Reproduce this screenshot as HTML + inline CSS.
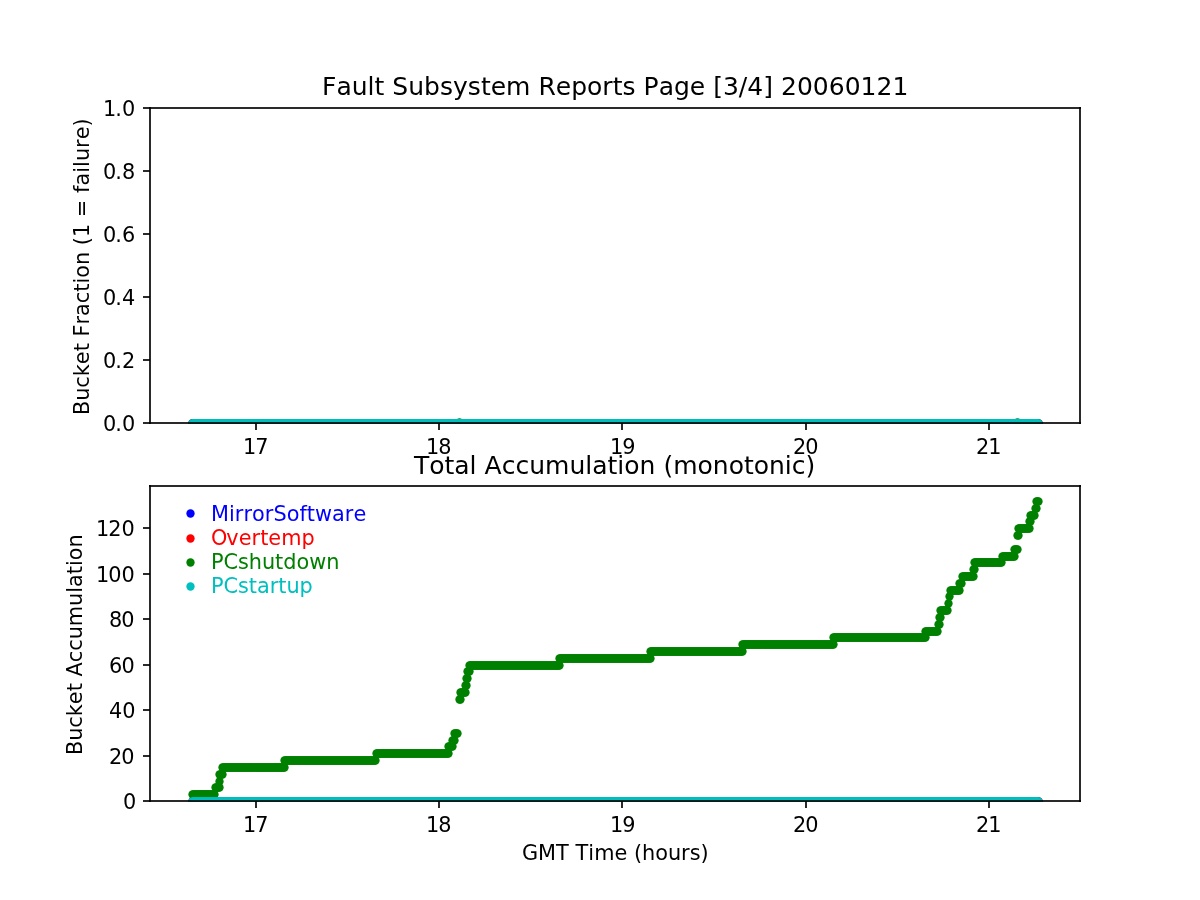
<!DOCTYPE html>
<html><head><meta charset="utf-8"><title>Fault Subsystem Reports</title>
<style>
html,body{margin:0;padding:0;background:#fff;}
body{width:1200px;height:900px;overflow:hidden;}
svg{display:block;}
text{font-family:"DejaVu Sans","Liberation Sans",sans-serif;fill:#000;font-kerning:none;}
.t{font-size:20.83px;}
.h{font-size:25.0px;}
.d{fill:none;stroke:none;}
.sp{fill:#000;fill-opacity:0.835;}
</style></head><body>
<svg width="1200" height="900" viewBox="0 0 1200 900">
<rect width="1200" height="900" fill="#fff"/>
<defs>
<clipPath id="c1"><rect x="150" y="108" width="930" height="316"/></clipPath>
<clipPath id="c2"><rect x="150" y="486" width="930" height="316"/></clipPath>
<marker id="mb" markerUnits="userSpaceOnUse" markerWidth="10" markerHeight="10" refX="5" refY="5"><circle cx="5" cy="5" r="4.17" fill="#0000ff"/></marker>
<marker id="mr" markerUnits="userSpaceOnUse" markerWidth="10" markerHeight="10" refX="5" refY="5"><circle cx="5" cy="5" r="4.17" fill="#ff0000"/></marker>
<marker id="mg" markerUnits="userSpaceOnUse" markerWidth="10" markerHeight="10" refX="5" refY="5"><circle cx="5" cy="5" r="4.17" fill="#008000"/></marker>
<marker id="mc" markerUnits="userSpaceOnUse" markerWidth="10" markerHeight="10" refX="5" refY="5"><circle cx="5" cy="5" r="4.17" fill="#00bfbf"/></marker>
<polyline id="z" class="d" points="192.5,801.5 193.5,801.5 194.5,801.5 195.5,801.5 196.5,801.5 197.5,801.5 198.5,801.5 199.5,801.5 200.5,801.5 201.5,801.5 202.5,801.5 203.5,801.5 204.5,801.5 205.5,801.5 206.5,801.5 207.5,801.5 208.5,801.5 209.5,801.5 210.5,801.5 211.5,801.5 212.5,801.5 213.5,801.5 214.5,801.5 215.5,801.5 216.5,801.5 217.5,801.5 218.5,801.5 219.5,801.5 220.5,801.5 221.5,801.5 222.5,801.5 223.5,801.5 224.5,801.5 225.5,801.5 226.5,801.5 227.5,801.5 228.5,801.5 229.5,801.5 230.5,801.5 231.5,801.5 232.5,801.5 233.5,801.5 234.5,801.5 235.5,801.5 236.5,801.5 237.5,801.5 238.5,801.5 239.5,801.5 240.5,801.5 241.5,801.5 242.5,801.5 243.5,801.5 244.5,801.5 245.5,801.5 246.5,801.5 247.5,801.5 248.5,801.5 249.5,801.5 250.5,801.5 251.5,801.5 252.5,801.5 253.5,801.5 254.5,801.5 255.5,801.5 256.5,801.5 257.5,801.5 258.5,801.5 259.5,801.5 260.5,801.5 261.5,801.5 262.5,801.5 263.5,801.5 264.5,801.5 265.5,801.5 266.5,801.5 267.5,801.5 268.5,801.5 269.5,801.5 270.5,801.5 271.5,801.5 272.5,801.5 273.5,801.5 274.5,801.5 275.5,801.5 276.5,801.5 277.5,801.5 278.5,801.5 279.5,801.5 280.5,801.5 281.5,801.5 282.5,801.5 283.5,801.5 284.5,801.5 285.5,801.5 286.5,801.5 287.5,801.5 288.5,801.5 289.5,801.5 290.5,801.5 291.5,801.5 292.5,801.5 293.5,801.5 294.5,801.5 295.5,801.5 296.5,801.5 297.5,801.5 298.5,801.5 299.5,801.5 300.5,801.5 301.5,801.5 302.5,801.5 303.5,801.5 304.5,801.5 305.5,801.5 306.5,801.5 307.5,801.5 308.5,801.5 309.5,801.5 310.5,801.5 311.5,801.5 312.5,801.5 313.5,801.5 314.5,801.5 315.5,801.5 316.5,801.5 317.5,801.5 318.5,801.5 319.5,801.5 320.5,801.5 321.5,801.5 322.5,801.5 323.5,801.5 324.5,801.5 325.5,801.5 326.5,801.5 327.5,801.5 328.5,801.5 329.5,801.5 330.5,801.5 331.5,801.5 332.5,801.5 333.5,801.5 334.5,801.5 335.5,801.5 336.5,801.5 337.5,801.5 338.5,801.5 339.5,801.5 340.5,801.5 341.5,801.5 342.5,801.5 343.5,801.5 344.5,801.5 345.5,801.5 346.5,801.5 347.5,801.5 348.5,801.5 349.5,801.5 350.5,801.5 351.5,801.5 352.5,801.5 353.5,801.5 354.5,801.5 355.5,801.5 356.5,801.5 357.5,801.5 358.5,801.5 359.5,801.5 360.5,801.5 361.5,801.5 362.5,801.5 363.5,801.5 364.5,801.5 365.5,801.5 366.5,801.5 367.5,801.5 368.5,801.5 369.5,801.5 370.5,801.5 371.5,801.5 372.5,801.5 373.5,801.5 374.5,801.5 375.5,801.5 376.5,801.5 377.5,801.5 378.5,801.5 379.5,801.5 380.5,801.5 381.5,801.5 382.5,801.5 383.5,801.5 384.5,801.5 385.5,801.5 386.5,801.5 387.5,801.5 388.5,801.5 389.5,801.5 390.5,801.5 391.5,801.5 392.5,801.5 393.5,801.5 394.5,801.5 395.5,801.5 396.5,801.5 397.5,801.5 398.5,801.5 399.5,801.5 400.5,801.5 401.5,801.5 402.5,801.5 403.5,801.5 404.5,801.5 405.5,801.5 406.5,801.5 407.5,801.5 408.5,801.5 409.5,801.5 410.5,801.5 411.5,801.5 412.5,801.5 413.5,801.5 414.5,801.5 415.5,801.5 416.5,801.5 417.5,801.5 418.5,801.5 419.5,801.5 420.5,801.5 421.5,801.5 422.5,801.5 423.5,801.5 424.5,801.5 425.5,801.5 426.5,801.5 427.5,801.5 428.5,801.5 429.5,801.5 430.5,801.5 431.5,801.5 432.5,801.5 433.5,801.5 434.5,801.5 435.5,801.5 436.5,801.5 437.5,801.5 438.5,801.5 439.5,801.5 440.5,801.5 441.5,801.5 442.5,801.5 443.5,801.5 444.5,801.5 445.5,801.5 446.5,801.5 447.5,801.5 448.5,801.5 449.5,801.5 450.5,801.5 451.5,801.5 452.5,801.5 453.5,801.5 454.5,801.5 455.5,801.5 456.5,801.5 457.5,801.5 458.5,801.5 459.5,801.5 460.5,801.5 461.5,801.5 462.5,801.5 463.5,801.5 464.5,801.5 465.5,801.5 466.5,801.5 467.5,801.5 468.5,801.5 469.5,801.5 470.5,801.5 471.5,801.5 472.5,801.5 473.5,801.5 474.5,801.5 475.5,801.5 476.5,801.5 477.5,801.5 478.5,801.5 479.5,801.5 480.5,801.5 481.5,801.5 482.5,801.5 483.5,801.5 484.5,801.5 485.5,801.5 486.5,801.5 487.5,801.5 488.5,801.5 489.5,801.5 490.5,801.5 491.5,801.5 492.5,801.5 493.5,801.5 494.5,801.5 495.5,801.5 496.5,801.5 497.5,801.5 498.5,801.5 499.5,801.5 500.5,801.5 501.5,801.5 502.5,801.5 503.5,801.5 504.5,801.5 505.5,801.5 506.5,801.5 507.5,801.5 508.5,801.5 509.5,801.5 510.5,801.5 511.5,801.5 512.5,801.5 513.5,801.5 514.5,801.5 515.5,801.5 516.5,801.5 517.5,801.5 518.5,801.5 519.5,801.5 520.5,801.5 521.5,801.5 522.5,801.5 523.5,801.5 524.5,801.5 525.5,801.5 526.5,801.5 527.5,801.5 528.5,801.5 529.5,801.5 530.5,801.5 531.5,801.5 532.5,801.5 533.5,801.5 534.5,801.5 535.5,801.5 536.5,801.5 537.5,801.5 538.5,801.5 539.5,801.5 540.5,801.5 541.5,801.5 542.5,801.5 543.5,801.5 544.5,801.5 545.5,801.5 546.5,801.5 547.5,801.5 548.5,801.5 549.5,801.5 550.5,801.5 551.5,801.5 552.5,801.5 553.5,801.5 554.5,801.5 555.5,801.5 556.5,801.5 557.5,801.5 558.5,801.5 559.5,801.5 560.5,801.5 561.5,801.5 562.5,801.5 563.5,801.5 564.5,801.5 565.5,801.5 566.5,801.5 567.5,801.5 568.5,801.5 569.5,801.5 570.5,801.5 571.5,801.5 572.5,801.5 573.5,801.5 574.5,801.5 575.5,801.5 576.5,801.5 577.5,801.5 578.5,801.5 579.5,801.5 580.5,801.5 581.5,801.5 582.5,801.5 583.5,801.5 584.5,801.5 585.5,801.5 586.5,801.5 587.5,801.5 588.5,801.5 589.5,801.5 590.5,801.5 591.5,801.5 592.5,801.5 593.5,801.5 594.5,801.5 595.5,801.5 596.5,801.5 597.5,801.5 598.5,801.5 599.5,801.5 600.5,801.5 601.5,801.5 602.5,801.5 603.5,801.5 604.5,801.5 605.5,801.5 606.5,801.5 607.5,801.5 608.5,801.5 609.5,801.5 610.5,801.5 611.5,801.5 612.5,801.5 613.5,801.5 614.5,801.5 615.5,801.5 616.5,801.5 617.5,801.5 618.5,801.5 619.5,801.5 620.5,801.5 621.5,801.5 622.5,801.5 623.5,801.5 624.5,801.5 625.5,801.5 626.5,801.5 627.5,801.5 628.5,801.5 629.5,801.5 630.5,801.5 631.5,801.5 632.5,801.5 633.5,801.5 634.5,801.5 635.5,801.5 636.5,801.5 637.5,801.5 638.5,801.5 639.5,801.5 640.5,801.5 641.5,801.5 642.5,801.5 643.5,801.5 644.5,801.5 645.5,801.5 646.5,801.5 647.5,801.5 648.5,801.5 649.5,801.5 650.5,801.5 651.5,801.5 652.5,801.5 653.5,801.5 654.5,801.5 655.5,801.5 656.5,801.5 657.5,801.5 658.5,801.5 659.5,801.5 660.5,801.5 661.5,801.5 662.5,801.5 663.5,801.5 664.5,801.5 665.5,801.5 666.5,801.5 667.5,801.5 668.5,801.5 669.5,801.5 670.5,801.5 671.5,801.5 672.5,801.5 673.5,801.5 674.5,801.5 675.5,801.5 676.5,801.5 677.5,801.5 678.5,801.5 679.5,801.5 680.5,801.5 681.5,801.5 682.5,801.5 683.5,801.5 684.5,801.5 685.5,801.5 686.5,801.5 687.5,801.5 688.5,801.5 689.5,801.5 690.5,801.5 691.5,801.5 692.5,801.5 693.5,801.5 694.5,801.5 695.5,801.5 696.5,801.5 697.5,801.5 698.5,801.5 699.5,801.5 700.5,801.5 701.5,801.5 702.5,801.5 703.5,801.5 704.5,801.5 705.5,801.5 706.5,801.5 707.5,801.5 708.5,801.5 709.5,801.5 710.5,801.5 711.5,801.5 712.5,801.5 713.5,801.5 714.5,801.5 715.5,801.5 716.5,801.5 717.5,801.5 718.5,801.5 719.5,801.5 720.5,801.5 721.5,801.5 722.5,801.5 723.5,801.5 724.5,801.5 725.5,801.5 726.5,801.5 727.5,801.5 728.5,801.5 729.5,801.5 730.5,801.5 731.5,801.5 732.5,801.5 733.5,801.5 734.5,801.5 735.5,801.5 736.5,801.5 737.5,801.5 738.5,801.5 739.5,801.5 740.5,801.5 741.5,801.5 742.5,801.5 743.5,801.5 744.5,801.5 745.5,801.5 746.5,801.5 747.5,801.5 748.5,801.5 749.5,801.5 750.5,801.5 751.5,801.5 752.5,801.5 753.5,801.5 754.5,801.5 755.5,801.5 756.5,801.5 757.5,801.5 758.5,801.5 759.5,801.5 760.5,801.5 761.5,801.5 762.5,801.5 763.5,801.5 764.5,801.5 765.5,801.5 766.5,801.5 767.5,801.5 768.5,801.5 769.5,801.5 770.5,801.5 771.5,801.5 772.5,801.5 773.5,801.5 774.5,801.5 775.5,801.5 776.5,801.5 777.5,801.5 778.5,801.5 779.5,801.5 780.5,801.5 781.5,801.5 782.5,801.5 783.5,801.5 784.5,801.5 785.5,801.5 786.5,801.5 787.5,801.5 788.5,801.5 789.5,801.5 790.5,801.5 791.5,801.5 792.5,801.5 793.5,801.5 794.5,801.5 795.5,801.5 796.5,801.5 797.5,801.5 798.5,801.5 799.5,801.5 800.5,801.5 801.5,801.5 802.5,801.5 803.5,801.5 804.5,801.5 805.5,801.5 806.5,801.5 807.5,801.5 808.5,801.5 809.5,801.5 810.5,801.5 811.5,801.5 812.5,801.5 813.5,801.5 814.5,801.5 815.5,801.5 816.5,801.5 817.5,801.5 818.5,801.5 819.5,801.5 820.5,801.5 821.5,801.5 822.5,801.5 823.5,801.5 824.5,801.5 825.5,801.5 826.5,801.5 827.5,801.5 828.5,801.5 829.5,801.5 830.5,801.5 831.5,801.5 832.5,801.5 833.5,801.5 834.5,801.5 835.5,801.5 836.5,801.5 837.5,801.5 838.5,801.5 839.5,801.5 840.5,801.5 841.5,801.5 842.5,801.5 843.5,801.5 844.5,801.5 845.5,801.5 846.5,801.5 847.5,801.5 848.5,801.5 849.5,801.5 850.5,801.5 851.5,801.5 852.5,801.5 853.5,801.5 854.5,801.5 855.5,801.5 856.5,801.5 857.5,801.5 858.5,801.5 859.5,801.5 860.5,801.5 861.5,801.5 862.5,801.5 863.5,801.5 864.5,801.5 865.5,801.5 866.5,801.5 867.5,801.5 868.5,801.5 869.5,801.5 870.5,801.5 871.5,801.5 872.5,801.5 873.5,801.5 874.5,801.5 875.5,801.5 876.5,801.5 877.5,801.5 878.5,801.5 879.5,801.5 880.5,801.5 881.5,801.5 882.5,801.5 883.5,801.5 884.5,801.5 885.5,801.5 886.5,801.5 887.5,801.5 888.5,801.5 889.5,801.5 890.5,801.5 891.5,801.5 892.5,801.5 893.5,801.5 894.5,801.5 895.5,801.5 896.5,801.5 897.5,801.5 898.5,801.5 899.5,801.5 900.5,801.5 901.5,801.5 902.5,801.5 903.5,801.5 904.5,801.5 905.5,801.5 906.5,801.5 907.5,801.5 908.5,801.5 909.5,801.5 910.5,801.5 911.5,801.5 912.5,801.5 913.5,801.5 914.5,801.5 915.5,801.5 916.5,801.5 917.5,801.5 918.5,801.5 919.5,801.5 920.5,801.5 921.5,801.5 922.5,801.5 923.5,801.5 924.5,801.5 925.5,801.5 926.5,801.5 927.5,801.5 928.5,801.5 929.5,801.5 930.5,801.5 931.5,801.5 932.5,801.5 933.5,801.5 934.5,801.5 935.5,801.5 936.5,801.5 937.5,801.5 938.5,801.5 939.5,801.5 940.5,801.5 941.5,801.5 942.5,801.5 943.5,801.5 944.5,801.5 945.5,801.5 946.5,801.5 947.5,801.5 948.5,801.5 949.5,801.5 950.5,801.5 951.5,801.5 952.5,801.5 953.5,801.5 954.5,801.5 955.5,801.5 956.5,801.5 957.5,801.5 958.5,801.5 959.5,801.5 960.5,801.5 961.5,801.5 962.5,801.5 963.5,801.5 964.5,801.5 965.5,801.5 966.5,801.5 967.5,801.5 968.5,801.5 969.5,801.5 970.5,801.5 971.5,801.5 972.5,801.5 973.5,801.5 974.5,801.5 975.5,801.5 976.5,801.5 977.5,801.5 978.5,801.5 979.5,801.5 980.5,801.5 981.5,801.5 982.5,801.5 983.5,801.5 984.5,801.5 985.5,801.5 986.5,801.5 987.5,801.5 988.5,801.5 989.5,801.5 990.5,801.5 991.5,801.5 992.5,801.5 993.5,801.5 994.5,801.5 995.5,801.5 996.5,801.5 997.5,801.5 998.5,801.5 999.5,801.5 1000.5,801.5 1001.5,801.5 1002.5,801.5 1003.5,801.5 1004.5,801.5 1005.5,801.5 1006.5,801.5 1007.5,801.5 1008.5,801.5 1009.5,801.5 1010.5,801.5 1011.5,801.5 1012.5,801.5 1013.5,801.5 1014.5,801.5 1015.5,801.5 1016.5,801.5 1017.5,801.5 1018.5,801.5 1019.5,801.5 1020.5,801.5 1021.5,801.5 1022.5,801.5 1023.5,801.5 1024.5,801.5 1025.5,801.5 1026.5,801.5 1027.5,801.5 1028.5,801.5 1029.5,801.5 1030.5,801.5 1031.5,801.5 1032.5,801.5 1033.5,801.5 1034.5,801.5 1035.5,801.5 1036.5,801.5 1037.5,801.5 1038.5,801.5"/>
</defs>
<g clip-path="url(#c1)"><g transform="translate(0,-378)"><use href="#z" style="marker:url(#mb)"/><use href="#z" style="marker:url(#mr)"/><use href="#z" style="marker:url(#mg)"/></g><polyline class="d" style="marker:url(#mg)" points="459.5,422.5 1017.5,422.5"/><use href="#z" transform="translate(0,-378)" style="marker:url(#mc)"/></g>
<g class="sp"><rect x="255" y="423" width="2" height="7"/><rect x="438" y="423" width="2" height="7"/><rect x="621" y="423" width="2" height="7"/><rect x="805" y="423" width="2" height="7"/><rect x="988" y="423" width="2" height="7"/><rect x="143" y="422" width="7" height="2"/><rect x="143" y="359" width="7" height="2"/><rect x="143" y="296" width="7" height="2"/><rect x="143" y="233" width="7" height="2"/><rect x="143" y="170" width="7" height="2"/><rect x="143" y="107" width="7" height="2"/><rect x="149" y="107" width="2" height="317"/><rect x="1079" y="107" width="2" height="317"/><rect x="149" y="422" width="932" height="2"/><rect x="149" y="107" width="932" height="2"/></g>
<text class="t" x="242.875 255.125" y="454">17</text><text class="t" x="425.875 438.125" y="454">18</text><text class="t" x="609.875 622.125" y="454">19</text><text class="t" x="792.875 805.125" y="454">20</text><text class="t" x="975.875 988.125" y="454">21</text>
<text class="t" x="103 115.25 121.875" y="431">0.0</text><text class="t" x="103 115.25 121.875" y="368">0.2</text><text class="t" x="103 115.25 121.875" y="305">0.4</text><text class="t" x="103 115.25 121.875" y="242">0.6</text><text class="t" x="103 115.25 121.875" y="179">0.8</text><text class="t" x="103 115.25 121.875" y="116">1.0</text>
<text class="h" x="321.875 336.375 351.625 367.5 374.5 384.25 392.25 408.125 424 439.875 453 467.75 480.875 490.625 506 530.375 538.375 555.75 571.125 587 602.25 612.625 622.375 635.5 643.5 658.625 673.875 689.75 705.125 713.125 722.875 738.75 747.125 763.125 772.875 780.875 796.875 812.75 828.625 844.625 860.5 876.375 892.375" y="95">Fault Subsystem Reports Page [3/4] 20060121</text>
<text class="t" transform="translate(89,415.025) rotate(-90)" x="0 14.25 27.375 38.875 50.875 63.75 71.875 78.5 90.5 99.125 111.875 123.375 131.5 137.375 150.125 163.25 169.875 178 191.25 197.875 215.5 222.125 229.5 242.25 248.125 254 267.125 275.75 288.625" y="0">Bucket Fraction (1 = failure)</text>
<g clip-path="url(#c2)"><use href="#z" style="marker:url(#mb)"/><use href="#z" style="marker:url(#mr)"/><polyline class="d" style="marker:url(#mg)" points="192.5,794.5 193.5,794.5 194.5,794.5 195.5,794.5 196.5,794.5 197.5,794.5 198.5,794.5 199.5,794.5 200.5,794.5 201.5,794.5 202.5,794.5 203.5,794.5 204.5,794.5 205.5,794.5 206.5,794.5 207.5,794.5 208.5,794.5 209.5,794.5 210.5,794.5 211.5,794.5 212.5,794.5 213.5,794.5 214.5,794.5 215.5,787.5 216.5,787.5 217.5,787.5 218.5,787.5 219.5,787.5 219.5,781.5 219.5,774.5 220.5,774.5 221.5,774.5 222.5,774.5 222.5,767.5 223.5,767.5 224.5,767.5 225.5,767.5 226.5,767.5 227.5,767.5 228.5,767.5 229.5,767.5 230.5,767.5 231.5,767.5 232.5,767.5 233.5,767.5 234.5,767.5 235.5,767.5 236.5,767.5 237.5,767.5 238.5,767.5 239.5,767.5 240.5,767.5 241.5,767.5 242.5,767.5 243.5,767.5 244.5,767.5 245.5,767.5 246.5,767.5 247.5,767.5 248.5,767.5 249.5,767.5 250.5,767.5 251.5,767.5 252.5,767.5 253.5,767.5 254.5,767.5 255.5,767.5 256.5,767.5 257.5,767.5 258.5,767.5 259.5,767.5 260.5,767.5 261.5,767.5 262.5,767.5 263.5,767.5 264.5,767.5 265.5,767.5 266.5,767.5 267.5,767.5 268.5,767.5 269.5,767.5 270.5,767.5 271.5,767.5 272.5,767.5 273.5,767.5 274.5,767.5 275.5,767.5 276.5,767.5 277.5,767.5 278.5,767.5 279.5,767.5 280.5,767.5 281.5,767.5 282.5,767.5 283.5,767.5 284.5,767.5 284.5,760.5 285.5,760.5 286.5,760.5 287.5,760.5 288.5,760.5 289.5,760.5 290.5,760.5 291.5,760.5 292.5,760.5 293.5,760.5 294.5,760.5 295.5,760.5 296.5,760.5 297.5,760.5 298.5,760.5 299.5,760.5 300.5,760.5 301.5,760.5 302.5,760.5 303.5,760.5 304.5,760.5 305.5,760.5 306.5,760.5 307.5,760.5 308.5,760.5 309.5,760.5 310.5,760.5 311.5,760.5 312.5,760.5 313.5,760.5 314.5,760.5 315.5,760.5 316.5,760.5 317.5,760.5 318.5,760.5 319.5,760.5 320.5,760.5 321.5,760.5 322.5,760.5 323.5,760.5 324.5,760.5 325.5,760.5 326.5,760.5 327.5,760.5 328.5,760.5 329.5,760.5 330.5,760.5 331.5,760.5 332.5,760.5 333.5,760.5 334.5,760.5 335.5,760.5 336.5,760.5 337.5,760.5 338.5,760.5 339.5,760.5 340.5,760.5 341.5,760.5 342.5,760.5 343.5,760.5 344.5,760.5 345.5,760.5 346.5,760.5 347.5,760.5 348.5,760.5 349.5,760.5 350.5,760.5 351.5,760.5 352.5,760.5 353.5,760.5 354.5,760.5 355.5,760.5 356.5,760.5 357.5,760.5 358.5,760.5 359.5,760.5 360.5,760.5 361.5,760.5 362.5,760.5 363.5,760.5 364.5,760.5 365.5,760.5 366.5,760.5 367.5,760.5 368.5,760.5 369.5,760.5 370.5,760.5 371.5,760.5 372.5,760.5 373.5,760.5 374.5,760.5 375.5,760.5 376.5,753.5 377.5,753.5 378.5,753.5 379.5,753.5 380.5,753.5 381.5,753.5 382.5,753.5 383.5,753.5 384.5,753.5 385.5,753.5 386.5,753.5 387.5,753.5 388.5,753.5 389.5,753.5 390.5,753.5 391.5,753.5 392.5,753.5 393.5,753.5 394.5,753.5 395.5,753.5 396.5,753.5 397.5,753.5 398.5,753.5 399.5,753.5 400.5,753.5 401.5,753.5 402.5,753.5 403.5,753.5 404.5,753.5 405.5,753.5 406.5,753.5 407.5,753.5 408.5,753.5 409.5,753.5 410.5,753.5 411.5,753.5 412.5,753.5 413.5,753.5 414.5,753.5 415.5,753.5 416.5,753.5 417.5,753.5 418.5,753.5 419.5,753.5 420.5,753.5 421.5,753.5 422.5,753.5 423.5,753.5 424.5,753.5 425.5,753.5 426.5,753.5 427.5,753.5 428.5,753.5 429.5,753.5 430.5,753.5 431.5,753.5 432.5,753.5 433.5,753.5 434.5,753.5 435.5,753.5 436.5,753.5 437.5,753.5 438.5,753.5 439.5,753.5 440.5,753.5 441.5,753.5 442.5,753.5 443.5,753.5 444.5,753.5 445.5,753.5 446.5,753.5 447.5,753.5 448.5,753.5 448.5,746.5 449.5,746.5 450.5,746.5 451.5,746.5 452.5,746.5 452.5,740.5 453.5,740.5 454.5,740.5 454.5,733.5 455.5,733.5 456.5,733.5 457.5,733.5 459.5,699.5 460.5,699.5 460.5,692.5 461.5,692.5 462.5,692.5 463.5,692.5 464.5,692.5 465.5,692.5 465.5,685.5 466.5,685.5 466.5,678.5 467.5,678.5 467.5,671.5 468.5,671.5 469.5,671.5 469.5,665.5 470.5,665.5 471.5,665.5 472.5,665.5 473.5,665.5 474.5,665.5 475.5,665.5 476.5,665.5 477.5,665.5 478.5,665.5 479.5,665.5 480.5,665.5 481.5,665.5 482.5,665.5 483.5,665.5 484.5,665.5 485.5,665.5 486.5,665.5 487.5,665.5 488.5,665.5 489.5,665.5 490.5,665.5 491.5,665.5 492.5,665.5 493.5,665.5 494.5,665.5 495.5,665.5 496.5,665.5 497.5,665.5 498.5,665.5 499.5,665.5 500.5,665.5 501.5,665.5 502.5,665.5 503.5,665.5 504.5,665.5 505.5,665.5 506.5,665.5 507.5,665.5 508.5,665.5 509.5,665.5 510.5,665.5 511.5,665.5 512.5,665.5 513.5,665.5 514.5,665.5 515.5,665.5 516.5,665.5 517.5,665.5 518.5,665.5 519.5,665.5 520.5,665.5 521.5,665.5 522.5,665.5 523.5,665.5 524.5,665.5 525.5,665.5 526.5,665.5 527.5,665.5 528.5,665.5 529.5,665.5 530.5,665.5 531.5,665.5 532.5,665.5 533.5,665.5 534.5,665.5 535.5,665.5 536.5,665.5 537.5,665.5 538.5,665.5 539.5,665.5 540.5,665.5 541.5,665.5 542.5,665.5 543.5,665.5 544.5,665.5 545.5,665.5 546.5,665.5 547.5,665.5 548.5,665.5 549.5,665.5 550.5,665.5 551.5,665.5 552.5,665.5 553.5,665.5 554.5,665.5 555.5,665.5 556.5,665.5 557.5,665.5 558.5,665.5 559.5,665.5 559.5,658.5 560.5,658.5 561.5,658.5 562.5,658.5 563.5,658.5 564.5,658.5 565.5,658.5 566.5,658.5 567.5,658.5 568.5,658.5 569.5,658.5 570.5,658.5 571.5,658.5 572.5,658.5 573.5,658.5 574.5,658.5 575.5,658.5 576.5,658.5 577.5,658.5 578.5,658.5 579.5,658.5 580.5,658.5 581.5,658.5 582.5,658.5 583.5,658.5 584.5,658.5 585.5,658.5 586.5,658.5 587.5,658.5 588.5,658.5 589.5,658.5 590.5,658.5 591.5,658.5 592.5,658.5 593.5,658.5 594.5,658.5 595.5,658.5 596.5,658.5 597.5,658.5 598.5,658.5 599.5,658.5 600.5,658.5 601.5,658.5 602.5,658.5 603.5,658.5 604.5,658.5 605.5,658.5 606.5,658.5 607.5,658.5 608.5,658.5 609.5,658.5 610.5,658.5 611.5,658.5 612.5,658.5 613.5,658.5 614.5,658.5 615.5,658.5 616.5,658.5 617.5,658.5 618.5,658.5 619.5,658.5 620.5,658.5 621.5,658.5 622.5,658.5 623.5,658.5 624.5,658.5 625.5,658.5 626.5,658.5 627.5,658.5 628.5,658.5 629.5,658.5 630.5,658.5 631.5,658.5 632.5,658.5 633.5,658.5 634.5,658.5 635.5,658.5 636.5,658.5 637.5,658.5 638.5,658.5 639.5,658.5 640.5,658.5 641.5,658.5 642.5,658.5 643.5,658.5 644.5,658.5 645.5,658.5 646.5,658.5 647.5,658.5 648.5,658.5 649.5,658.5 650.5,658.5 650.5,651.5 651.5,651.5 652.5,651.5 653.5,651.5 654.5,651.5 655.5,651.5 656.5,651.5 657.5,651.5 658.5,651.5 659.5,651.5 660.5,651.5 661.5,651.5 662.5,651.5 663.5,651.5 664.5,651.5 665.5,651.5 666.5,651.5 667.5,651.5 668.5,651.5 669.5,651.5 670.5,651.5 671.5,651.5 672.5,651.5 673.5,651.5 674.5,651.5 675.5,651.5 676.5,651.5 677.5,651.5 678.5,651.5 679.5,651.5 680.5,651.5 681.5,651.5 682.5,651.5 683.5,651.5 684.5,651.5 685.5,651.5 686.5,651.5 687.5,651.5 688.5,651.5 689.5,651.5 690.5,651.5 691.5,651.5 692.5,651.5 693.5,651.5 694.5,651.5 695.5,651.5 696.5,651.5 697.5,651.5 698.5,651.5 699.5,651.5 700.5,651.5 701.5,651.5 702.5,651.5 703.5,651.5 704.5,651.5 705.5,651.5 706.5,651.5 707.5,651.5 708.5,651.5 709.5,651.5 710.5,651.5 711.5,651.5 712.5,651.5 713.5,651.5 714.5,651.5 715.5,651.5 716.5,651.5 717.5,651.5 718.5,651.5 719.5,651.5 720.5,651.5 721.5,651.5 722.5,651.5 723.5,651.5 724.5,651.5 725.5,651.5 726.5,651.5 727.5,651.5 728.5,651.5 729.5,651.5 730.5,651.5 731.5,651.5 732.5,651.5 733.5,651.5 734.5,651.5 735.5,651.5 736.5,651.5 737.5,651.5 738.5,651.5 739.5,651.5 740.5,651.5 741.5,651.5 742.5,651.5 742.5,644.5 743.5,644.5 744.5,644.5 745.5,644.5 746.5,644.5 747.5,644.5 748.5,644.5 749.5,644.5 750.5,644.5 751.5,644.5 752.5,644.5 753.5,644.5 754.5,644.5 755.5,644.5 756.5,644.5 757.5,644.5 758.5,644.5 759.5,644.5 760.5,644.5 761.5,644.5 762.5,644.5 763.5,644.5 764.5,644.5 765.5,644.5 766.5,644.5 767.5,644.5 768.5,644.5 769.5,644.5 770.5,644.5 771.5,644.5 772.5,644.5 773.5,644.5 774.5,644.5 775.5,644.5 776.5,644.5 777.5,644.5 778.5,644.5 779.5,644.5 780.5,644.5 781.5,644.5 782.5,644.5 783.5,644.5 784.5,644.5 785.5,644.5 786.5,644.5 787.5,644.5 788.5,644.5 789.5,644.5 790.5,644.5 791.5,644.5 792.5,644.5 793.5,644.5 794.5,644.5 795.5,644.5 796.5,644.5 797.5,644.5 798.5,644.5 799.5,644.5 800.5,644.5 801.5,644.5 802.5,644.5 803.5,644.5 804.5,644.5 805.5,644.5 806.5,644.5 807.5,644.5 808.5,644.5 809.5,644.5 810.5,644.5 811.5,644.5 812.5,644.5 813.5,644.5 814.5,644.5 815.5,644.5 816.5,644.5 817.5,644.5 818.5,644.5 819.5,644.5 820.5,644.5 821.5,644.5 822.5,644.5 823.5,644.5 824.5,644.5 825.5,644.5 826.5,644.5 827.5,644.5 828.5,644.5 829.5,644.5 830.5,644.5 831.5,644.5 832.5,644.5 833.5,644.5 833.5,637.5 834.5,637.5 835.5,637.5 836.5,637.5 837.5,637.5 838.5,637.5 839.5,637.5 840.5,637.5 841.5,637.5 842.5,637.5 843.5,637.5 844.5,637.5 845.5,637.5 846.5,637.5 847.5,637.5 848.5,637.5 849.5,637.5 850.5,637.5 851.5,637.5 852.5,637.5 853.5,637.5 854.5,637.5 855.5,637.5 856.5,637.5 857.5,637.5 858.5,637.5 859.5,637.5 860.5,637.5 861.5,637.5 862.5,637.5 863.5,637.5 864.5,637.5 865.5,637.5 866.5,637.5 867.5,637.5 868.5,637.5 869.5,637.5 870.5,637.5 871.5,637.5 872.5,637.5 873.5,637.5 874.5,637.5 875.5,637.5 876.5,637.5 877.5,637.5 878.5,637.5 879.5,637.5 880.5,637.5 881.5,637.5 882.5,637.5 883.5,637.5 884.5,637.5 885.5,637.5 886.5,637.5 887.5,637.5 888.5,637.5 889.5,637.5 890.5,637.5 891.5,637.5 892.5,637.5 893.5,637.5 894.5,637.5 895.5,637.5 896.5,637.5 897.5,637.5 898.5,637.5 899.5,637.5 900.5,637.5 901.5,637.5 902.5,637.5 903.5,637.5 904.5,637.5 905.5,637.5 906.5,637.5 907.5,637.5 908.5,637.5 909.5,637.5 910.5,637.5 911.5,637.5 912.5,637.5 913.5,637.5 914.5,637.5 915.5,637.5 916.5,637.5 917.5,637.5 918.5,637.5 919.5,637.5 920.5,637.5 921.5,637.5 922.5,637.5 923.5,637.5 924.5,637.5 925.5,637.5 925.5,631.5 926.5,631.5 927.5,631.5 928.5,631.5 929.5,631.5 930.5,631.5 931.5,631.5 932.5,631.5 933.5,631.5 934.5,631.5 935.5,631.5 936.5,631.5 937.5,631.5 938.5,624.5 939.5,624.5 939.5,617.5 940.5,617.5 940.5,610.5 941.5,610.5 942.5,610.5 943.5,610.5 944.5,610.5 945.5,610.5 946.5,610.5 947.5,610.5 948.5,603.5 949.5,596.5 950.5,590.5 951.5,590.5 952.5,590.5 953.5,590.5 954.5,590.5 955.5,590.5 956.5,590.5 957.5,590.5 958.5,590.5 959.5,590.5 959.5,583.5 960.5,583.5 961.5,583.5 962.5,576.5 963.5,576.5 964.5,576.5 965.5,576.5 966.5,576.5 967.5,576.5 968.5,576.5 969.5,576.5 970.5,576.5 971.5,576.5 972.5,576.5 973.5,576.5 973.5,569.5 974.5,569.5 974.5,562.5 975.5,562.5 976.5,562.5 977.5,562.5 978.5,562.5 979.5,562.5 980.5,562.5 981.5,562.5 982.5,562.5 983.5,562.5 984.5,562.5 985.5,562.5 986.5,562.5 987.5,562.5 988.5,562.5 989.5,562.5 990.5,562.5 991.5,562.5 992.5,562.5 993.5,562.5 994.5,562.5 995.5,562.5 996.5,562.5 997.5,562.5 998.5,562.5 999.5,562.5 1000.5,562.5 1001.5,562.5 1002.5,556.5 1003.5,556.5 1004.5,556.5 1005.5,556.5 1006.5,556.5 1007.5,556.5 1008.5,556.5 1009.5,556.5 1010.5,556.5 1011.5,556.5 1012.5,556.5 1013.5,556.5 1014.5,556.5 1014.5,549.5 1015.5,549.5 1016.5,549.5 1017.5,549.5 1017.5,535.5 1018.5,535.5 1018.5,528.5 1019.5,528.5 1020.5,528.5 1021.5,528.5 1022.5,528.5 1023.5,528.5 1024.5,528.5 1025.5,528.5 1026.5,528.5 1027.5,528.5 1028.5,528.5 1029.5,528.5 1029.5,521.5 1030.5,521.5 1030.5,515.5 1031.5,515.5 1032.5,515.5 1033.5,515.5 1034.5,515.5 1035.5,508.5 1036.5,508.5 1036.5,501.5 1037.5,501.5 1038.5,501.5"/><use href="#z" style="marker:url(#mc)"/></g>
<g class="sp"><rect x="255" y="801" width="2" height="7"/><rect x="438" y="801" width="2" height="7"/><rect x="621" y="801" width="2" height="7"/><rect x="805" y="801" width="2" height="7"/><rect x="988" y="801" width="2" height="7"/><rect x="143" y="800" width="7" height="2"/><rect x="143" y="755" width="7" height="2"/><rect x="143" y="709" width="7" height="2"/><rect x="143" y="664" width="7" height="2"/><rect x="143" y="618" width="7" height="2"/><rect x="143" y="573" width="7" height="2"/><rect x="143" y="527" width="7" height="2"/><rect x="149" y="485" width="2" height="317"/><rect x="1079" y="485" width="2" height="317"/><rect x="149" y="800" width="932" height="2"/><rect x="149" y="485" width="932" height="2"/></g>
<text class="t" x="242.875 255.125" y="832">17</text><text class="t" x="425.875 438.125" y="832">18</text><text class="t" x="609.875 622.125" y="832">19</text><text class="t" x="792.875 805.125" y="832">20</text><text class="t" x="975.875 988.125" y="832">21</text>
<text class="t" x="123" y="809">0</text><text class="t" x="109 121.25" y="764">20</text><text class="t" x="109 122.25" y="718">40</text><text class="t" x="109 121.375" y="673">60</text><text class="t" x="109 121.125" y="627">80</text><text class="t" x="96 108.25 121.5" y="582">100</text><text class="t" x="96 108.25 121.5" y="536">120</text>
<text class="h" x="413.925 429.3 444.55 454.3 469.55 476.55 484.55 501.675 515.425 529.175 545.05 569.425 585.3 592.3 607.55 617.3 624.3 639.55 655.425 663.425 673.175 697.55 712.8 728.675 743.925 753.675 768.925 784.8 791.8 805.55" y="474">Total Accumulation (monotonic)</text>
<text class="t" transform="translate(82,755.025) rotate(-90)" x="0 14.25 27.375 38.875 50.875 63.75 71.875 78.5 92.75 104.25 115.75 128.875 149.125 162.25 168.125 180.875 189 194.875 207.625" y="0">Bucket Accumulation</text>
<text class="t" x="521.975 538.1 555.975 568.85 575.475 588.35 594.225 614.475 627.35 633.975 642.1 655.225 667.975 681.1 689.725 700.6" y="860">GMT Time (hours)</text>
<circle cx="190.5" cy="513.5" r="4.17" fill="#0000ff"/><text class="t" x="211.025 228.9 234.775 243.4 252.025 264.775 273.4 286.65 299.4 306.775 314.9 332.025 344.775 353.4" y="521" style="fill:#0000ff">MirrorSoftware</text>
<circle cx="190.5" cy="538.5" r="4.17" fill="#ff0000"/><text class="t" x="210.9 226.275 238.65 251.525 260.15 268.275 281.15 301.4" y="545" style="fill:#ff0000">Overtemp</text>
<circle cx="190.5" cy="562.5" r="4.17" fill="#008000"/><text class="t" x="210.9 223.4 237.9 248.775 261.9 275.025 283.15 296.4 309.15 326.275" y="569" style="fill:#008000">PCshutdown</text>
<circle cx="190.5" cy="586.5" r="4.17" fill="#00bfbf"/><text class="t" x="210.9 223.4 237.9 248.775 256.9 269.65 278.275 286.4 299.525" y="593" style="fill:#00bfbf">PCstartup</text>
</svg>
</body></html>
